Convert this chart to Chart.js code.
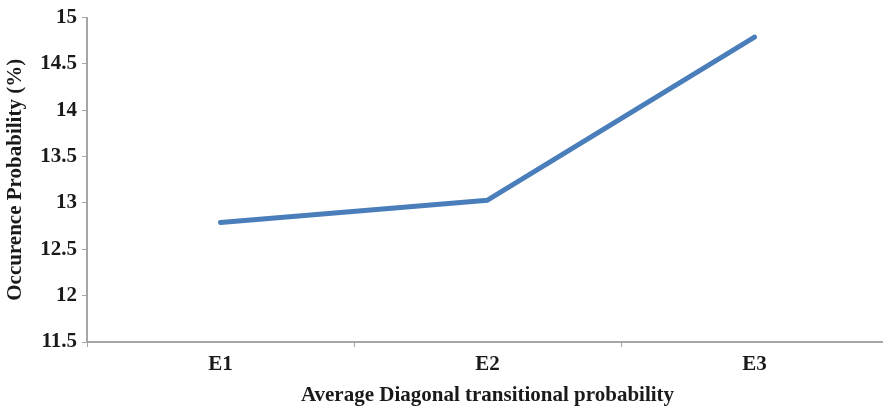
<!DOCTYPE html>
<html>
<head>
<meta charset="utf-8">
<script src="https://cdn.jsdelivr.net/npm/chart.js@4"></script>
<style>
  html, body { margin: 0; padding: 0; background: #fff; overflow: hidden; }
  #wrap { width: 883px; height: 408px; overflow: hidden; }
  canvas { display: block; }
</style>
</head>
<body>
<div id="wrap"><canvas id="c" width="890" height="408"></canvas></div>
<script>
// Categories and values of the occurrence-probability series
const categories = ['E1', 'E2', 'E3'];
const occurrence = [12.79, 13.03, 14.79];
const yMin = 11.5;
const yMax = 15;
const yStep = 0.5;

const serif = '"Liberation Serif", "Times New Roman", serif';
const axisGray = '#a6a6a6';
const textColor = '#1a1a1a';
const labelFont = { family: serif, size: 21, weight: 'bold' };

new Chart(document.getElementById('c'), {
  type: 'line',
  data: {
    labels: categories,
    datasets: [{
      data: occurrence,
      borderColor: '#4a7ebb',
      borderWidth: 5,
      borderCapStyle: 'round',
      borderJoinStyle: 'round',
      pointRadius: 0,
      tension: 0,
      fill: false
    }]
  },
  options: {
    responsive: false,
    animation: false,
    layout: { padding: { top: 13, right: 2, left: 0, bottom: 0 } },
    plugins: { legend: { display: false }, tooltip: { enabled: false } },
    scales: {
      x: {
        offset: true,
        grid: {
          offset: true,
          drawOnChartArea: false,
          drawTicks: true,
          tickLength: 5,
          color: axisGray,
          lineWidth: 1
        },
        border: { color: axisGray, width: 2 },
        ticks: {
          color: textColor,
          font: labelFont,
          padding: 5,
          maxRotation: 0
        },
        title: {
          display: true,
          text: 'Average Diagonal transitional probability',
          color: textColor,
          font: labelFont,
          padding: { top: 5, bottom: 0 }
        },
        afterFit: (s) => { s.height = 66; }
      },
      y: {
        min: yMin,
        max: yMax,
        ticks: {
          stepSize: yStep,
          color: textColor,
          font: labelFont,
          padding: 5,
          callback: (v) => String(+v)
        },
        grid: {
          drawOnChartArea: false,
          drawTicks: true,
          tickLength: 5,
          color: axisGray,
          lineWidth: 1
        },
        border: { color: axisGray, width: 2 },
        title: {
          display: true,
          text: 'Occurence Probability (%)',
          color: textColor,
          font: labelFont,
          padding: { top: 3, bottom: 2 }
        },
        afterFit: (s) => { s.width = 87; }
      }
    }
  }
});
</script>
</body>
</html>
